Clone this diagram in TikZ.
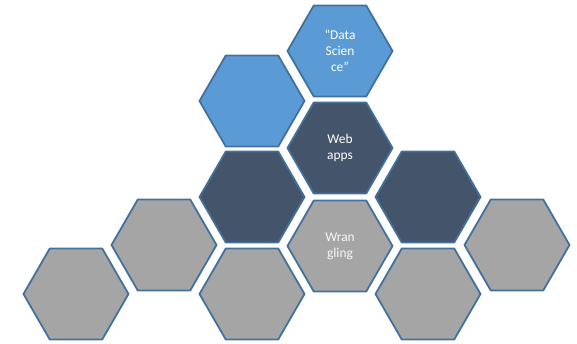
\documentclass[tikz,border=0pt]{standalone}
\usepackage{fontspec}
\setmainfont{Carlito}
\usetikzlibrary{shapes.geometric}
\definecolor{hexedge}{HTML}{41719C}
\definecolor{hexblue}{HTML}{5B9BD5}
\definecolor{hexdark}{HTML}{44546A}
\definecolor{hexgray}{HTML}{A5A5A5}
\begin{document}
\begin{tikzpicture}[line cap=round,line join=round,x=1bp,y=-1bp,
  hex/.style={regular polygon,regular polygon sides=6,minimum size=105bp,inner sep=0pt,
    draw=hexedge,line width=1.8bp,align=center,text=white,font=\fontsize{13.5}{16}\selectfont},
  blue hex/.style={hex,fill=hexblue},
  dark hex/.style={hex,fill=hexdark},
  gray hex/.style={hex,fill=hexgray,text=white!97!black}]
\useasboundingbox (0,0) rectangle (577,343);
% bottom row
\node[gray hex] (g0) at (76,294) {};
\node[gray hex] (g1) at (164,245) {};
\node[gray hex] (g2) at (252,294) {};
\node[gray hex] (wrang) at (340,246) {Wran\\gling};
\node[gray hex] (g4) at (428,294) {};
\node[gray hex] (g5) at (517,245) {};
% middle
\node[dark hex] (d2) at (252,197) {};
\node[dark hex] (web) at (340,148) {Web\\apps};
\node[dark hex] (d4) at (428,197) {};
% top
\node[blue hex] (b2) at (252,101) {};
\node[blue hex] (ds) at (340,51) {“Data\\Scien\\ce”};
\end{tikzpicture}
\end{document}
